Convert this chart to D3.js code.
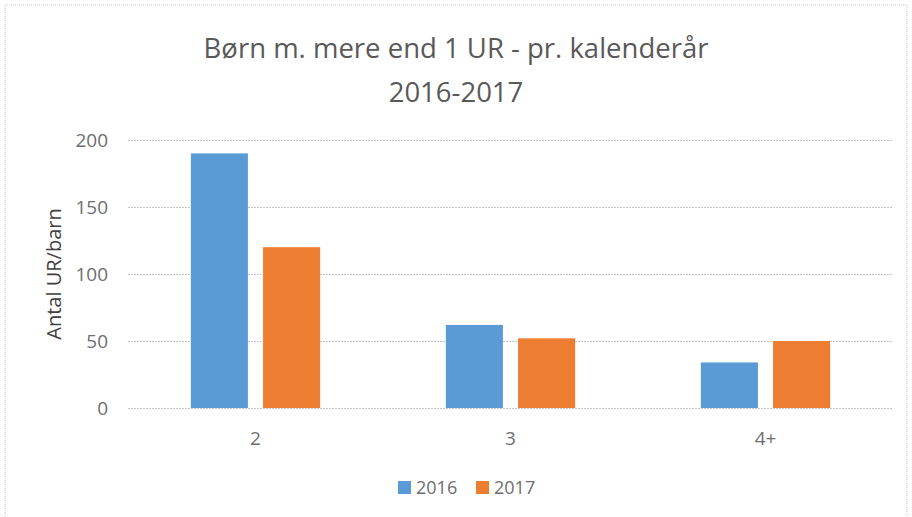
<!DOCTYPE html>
<html>
<head>
<meta charset="utf-8">
<script src="https://cdn.jsdelivr.net/npm/d3@7"></script>
<style>
  body { margin: 0; background: #fff; }
  text { font-family: "Open Sans", "Liberation Sans", sans-serif; fill: #595959; }
</style>
</head>
<body>
<script>
// data
const categories = ["2", "3", "4+"];
const seriesNames = ["2016", "2017"];
const values2016 = [190, 62, 34];
const values2017 = [120, 52, 50];
const yTicks = [0, 50, 100, 150, 200];
const titleLines = ["Børn m. mere end 1 UR - pr. kalenderår", "2016-2017"];
const yLabel = "Antal UR/barn";

const w = 912, h = 517;
const colors = { "2016": "#5b9bd5", "2017": "#ed7d31" };
const margin = { left: 128, right: 19, top: 140, bottom: 109 };

const svg = d3.select("body").append("svg")
  .attr("width", w)
  .attr("height", h);

// outer chart border (dotted)
svg.append("rect")
  .attr("x", 5).attr("y", 5)
  .attr("width", w - 10).attr("height", h + 20)
  .attr("fill", "none")
  .attr("stroke", "#c8c8c8")
  .attr("stroke-dasharray", "1,1");

const x = d3.scaleBand()
  .domain(categories)
  .range([margin.left, w - margin.right]);

const x1 = d3.scaleBand()
  .domain(seriesNames)
  .range([0, x.bandwidth()])
  .paddingInner(0.21)
  .paddingOuter(0.87);

const y = d3.scaleLinear()
  .domain([0, 200])
  .range([h - margin.bottom, margin.top]);

// gridlines
svg.append("g")
  .selectAll("line")
  .data(yTicks)
  .join("line")
  .attr("x1", margin.left)
  .attr("x2", w - margin.right)
  .attr("y1", d => y(d) + 0.5)
  .attr("y2", d => y(d) + 0.5)
  .attr("stroke", "#c4c4c4")
  .attr("stroke-dasharray", "2,1");

// y tick labels
svg.append("g")
  .selectAll("text")
  .data(yTicks)
  .join("text")
  .attr("x", 108)
  .attr("y", d => y(d))
  .attr("dy", "0.35em")
  .attr("text-anchor", "end")
  .style("font-size", "19px")
  .style("fill", "#6e6e6e")
  .text(d => d);

// bars
const rows = categories.map((c, i) => ({ cat: c, vals: [values2016[i], values2017[i]] }));
const groups = svg.append("g")
  .selectAll("g")
  .data(rows)
  .join("g")
  .attr("transform", d => `translate(${x(d.cat)},0)`);

groups.selectAll("rect")
  .data(d => d.vals.map((v, j) => ({ s: seriesNames[j], v })))
  .join("rect")
  .attr("x", d => x1(d.s))
  .attr("width", x1.bandwidth())
  .attr("y", d => y(d.v))
  .attr("height", d => y(0) - y(d.v))
  .attr("fill", d => colors[d.s]);

// category labels
svg.append("g")
  .selectAll("text")
  .data(categories)
  .join("text")
  .attr("x", d => x(d) + x.bandwidth() / 2)
  .attr("y", 445)
  .attr("text-anchor", "middle")
  .style("font-size", "19px")
  .style("fill", "#6e6e6e")
  .text(d => d);

// y axis label
svg.append("text")
  .attr("transform", "translate(61,274) rotate(-90)")
  .attr("text-anchor", "middle")
  .style("font-size", "20px")
  .style("fill", "#404040")
  .text(yLabel);

// title
svg.append("g")
  .selectAll("text")
  .data(titleLines)
  .join("text")
  .attr("x", w / 2)
  .attr("y", (d, i) => 58 + i * 44)
  .attr("text-anchor", "middle")
  .style("font-size", "27.5px")
  .text(d => d);

// legend
const legend = svg.append("g")
  .selectAll("g")
  .data(seriesNames)
  .join("g")
  .attr("transform", (d, i) => `translate(${398 + i * 78},481)`);

legend.append("rect")
  .attr("width", 13).attr("height", 13)
  .attr("fill", d => colors[d]);

legend.append("text")
  .attr("x", 18)
  .attr("y", 7)
  .attr("dy", "0.35em")
  .style("font-size", "18px")
  .style("fill", "#6e6e6e")
  .text(d => d);
</script>
</body>
</html>
